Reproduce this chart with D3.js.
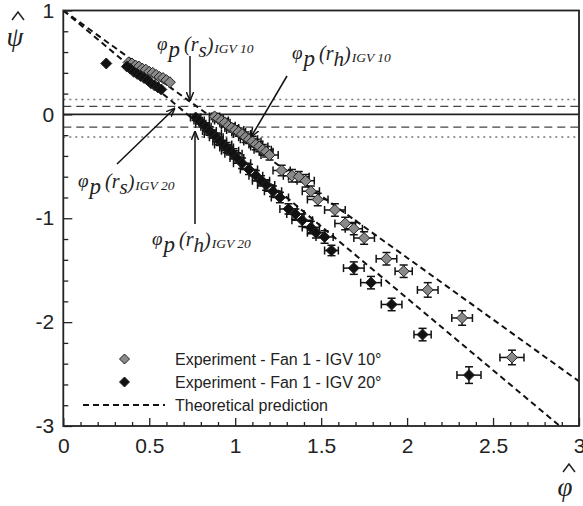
<!DOCTYPE html>
<html>
<head>
<meta charset="utf-8">
<script src="https://cdn.jsdelivr.net/npm/d3@7"></script>
<style>
  body { margin: 0; background: #fff; }
  svg { display: block; }
  .tickLabel { font-family: "Liberation Sans", Arial, sans-serif; font-size: 21px; fill: #222; }
  .legendText { font-family: "Liberation Sans", Arial, sans-serif; font-size: 16px; fill: #222; }
  .note { font-family: "Liberation Serif", "Times New Roman", serif; font-style: italic; fill: #222; }
</style>
</head>
<body>
<div id="chart"></div>
<script>
// data
var igv10Phi = [0.38, 0.40, 0.42, 0.44, 0.46, 0.48, 0.50, 0.52, 0.54, 0.56, 0.58, 0.60, 0.62,
  0.88, 0.90, 0.92, 0.94, 0.96, 0.98, 1.00, 1.02, 1.04, 1.06, 1.08, 1.10, 1.12, 1.14, 1.16, 1.18, 1.20,
  1.27, 1.33, 1.37, 1.41, 1.44, 1.48, 1.58, 1.64, 1.69, 1.75, 1.88, 1.98, 2.12, 2.32, 2.61];
var igv10Psi = [0.50, 0.49, 0.47, 0.46, 0.44, 0.43, 0.41, 0.40, 0.38, 0.36, 0.35, 0.33, 0.31,
  -0.02, -0.04, -0.06, -0.08, -0.11, -0.13, -0.15, -0.17, -0.19, -0.22, -0.24, -0.26, -0.29, -0.31, -0.34, -0.36, -0.39,
  -0.54, -0.59, -0.60, -0.64, -0.74, -0.82, -0.92, -1.05, -1.10, -1.19, -1.39, -1.51, -1.69, -1.96, -2.34];
var igv10ErrPhi = [0, 0, 0, 0, 0, 0, 0, 0, 0, 0, 0, 0, 0,
  0.03, 0.03, 0.04, 0.03, 0.04, 0.04, 0.05, 0.04, 0.05, 0.04, 0.05, 0.05, 0.04, 0.05, 0.05, 0.04, 0.05,
  0.05, 0.05, 0.06, 0.05, 0.05, 0.06, 0.06, 0.06, 0.05, 0.06, 0.06, 0.05, 0.06, 0.06, 0.07];
var igv10ErrPsi = [0, 0, 0, 0, 0, 0, 0, 0, 0, 0, 0, 0, 0,
  0.03, 0.03, 0.03, 0.04, 0.03, 0.04, 0.04, 0.04, 0.04, 0.05, 0.04, 0.05, 0.05, 0.05, 0.05, 0.05, 0.05,
  0.05, 0.06, 0.05, 0.06, 0.05, 0.06, 0.06, 0.06, 0.06, 0.06, 0.06, 0.06, 0.07, 0.07, 0.07];

var igv20Phi = [0.25, 0.37, 0.39, 0.41, 0.43, 0.45, 0.47, 0.49, 0.51, 0.53, 0.55, 0.57,
  0.77, 0.79, 0.81, 0.83, 0.85, 0.87, 0.89, 0.91, 0.93, 0.95, 0.97, 0.99, 1.01, 1.04, 1.08, 1.12, 1.15, 1.18, 1.22, 1.26,
  1.31, 1.35, 1.39, 1.44, 1.47, 1.52, 1.56, 1.69, 1.79, 1.91, 2.09, 2.36];
var igv20Psi = [0.49, 0.46, 0.44, 0.41, 0.39, 0.37, 0.35, 0.33, 0.30, 0.28, 0.26, 0.24,
  -0.03, -0.06, -0.09, -0.12, -0.16, -0.19, -0.22, -0.26, -0.29, -0.32, -0.35, -0.38, -0.42, -0.47, -0.53, -0.59, -0.64, -0.68, -0.74, -0.80,
  -0.91, -0.96, -1.02, -1.09, -1.14, -1.18, -1.31, -1.48, -1.62, -1.83, -2.12, -2.51];
var igv20ErrPhi = [0, 0, 0, 0, 0, 0, 0, 0, 0, 0, 0, 0,
  0.03, 0.03, 0.04, 0.03, 0.04, 0.05, 0.04, 0.04, 0.05, 0.04, 0.05, 0.05, 0.04, 0.05, 0.05, 0.04, 0.05, 0.05, 0.05, 0.05,
  0.05, 0.05, 0.06, 0.05, 0.05, 0.05, 0.04, 0.06, 0.06, 0.06, 0.05, 0.07];
var igv20ErrPsi = [0, 0, 0, 0, 0, 0, 0, 0, 0, 0, 0, 0,
  0.03, 0.03, 0.03, 0.04, 0.04, 0.04, 0.04, 0.04, 0.04, 0.05, 0.04, 0.05, 0.05, 0.05, 0.05, 0.05, 0.05, 0.05, 0.05, 0.05,
  0.05, 0.05, 0.06, 0.06, 0.05, 0.06, 0.05, 0.06, 0.06, 0.06, 0.06, 0.08];

// theoretical prediction lines: psi = 1 + slope * phi
var theoryIntercept = 1;
var theorySlopes = [-1.19, -1.385];

// horizontal reference levels
var dashedLevels = [0.077, -0.122];
var dottedLevels = [0.144, -0.218];

var xMajor = [0, 0.5, 1, 1.5, 2, 2.5, 3];
var yMajor = [1, 0, -1, -2, -3];

var legendLabels = ["Experiment - Fan 1 - IGV 10\u00b0", "Experiment - Fan 1 - IGV 20\u00b0", "Theoretical prediction"];

var width = 583;
var height = 506;
var plotLeft = 63.3;
var plotRight = 579;
var plotTop = 10.5;
var plotBottom = 426;

var svg = d3.select("#chart").append("svg")
  .attr("width", width)
  .attr("height", height);

var xScale = d3.scaleLinear().domain([0, 3]).range([plotLeft, plotRight]);
var yScale = d3.scaleLinear().domain([-3, 1]).range([plotBottom, plotTop]);

var defs = svg.append("defs");
defs.append("clipPath").attr("id", "plotClip")
  .append("rect")
  .attr("x", plotLeft).attr("y", plotTop)
  .attr("width", plotRight - plotLeft).attr("height", plotBottom - plotTop);

// arrow marker
defs.append("marker")
  .attr("id", "arrow")
  .attr("viewBox", "0 -5 10 10")
  .attr("refX", 10).attr("refY", 0)
  .attr("markerWidth", 9).attr("markerHeight", 9)
  .attr("markerUnits", "userSpaceOnUse")
  .attr("orient", "auto")
  .append("path")
  .attr("d", "M0,-4L10,0L0,4")
  .attr("fill", "none")
  .attr("stroke", "#111")
  .attr("stroke-width", 1.6);

// minor ticks
var xMinor = d3.range(0, 31).map(function(i) { return i / 10; })
  .filter(function(v) { return Math.round(v * 10) % 5 !== 0; });
var yMinor = d3.range(-15, 6).map(function(i) { return i / 5; })
  .filter(function(v) { return Math.round(v * 5) % 5 !== 0; });

var xAxis = d3.axisBottom(xScale).tickValues(xMajor).tickSize(-8).tickPadding(12)
  .tickFormat(function(d) { return String(d); });
var xAxisMinor = d3.axisBottom(xScale).tickValues(xMinor).tickSize(-4).tickFormat("");
var yAxis = d3.axisLeft(yScale).tickValues(yMajor).tickSize(-9).tickPadding(9)
  .tickFormat(function(d) { return String(d); });
var yAxisMinor = d3.axisLeft(yScale).tickValues(yMinor).tickSize(-5).tickFormat("");

function styleAxis(g) {
  g.select(".domain").remove();
  g.attr("font-size", null).attr("font-family", null);
  g.selectAll("line").attr("stroke", "#222").attr("stroke-width", 1.3);
  g.selectAll("text").attr("class", "tickLabel").attr("fill", "#222");
}

svg.append("g").attr("transform", "translate(0," + plotBottom + ")").call(xAxis).call(styleAxis);
svg.append("g").attr("transform", "translate(0," + plotBottom + ")").call(xAxisMinor).call(styleAxis);
svg.append("g").attr("transform", "translate(" + plotLeft + ",0)").call(yAxis).call(styleAxis);
svg.append("g").attr("transform", "translate(" + plotLeft + ",0)").call(yAxisMinor).call(styleAxis);

// reference lines
var plot = svg.append("g").attr("clip-path", "url(#plotClip)");

plot.selectAll(".dotLevel").data(dottedLevels).enter().append("line")
  .attr("x1", plotLeft).attr("x2", plotRight)
  .attr("y1", function(d) { return yScale(d); })
  .attr("y2", function(d) { return yScale(d); })
  .attr("stroke", "#777").attr("stroke-width", 1.5)
  .attr("stroke-dasharray", "2,4");

plot.selectAll(".dashLevel").data(dashedLevels).enter().append("line")
  .attr("x1", plotLeft).attr("x2", plotRight)
  .attr("y1", function(d) { return yScale(d); })
  .attr("y2", function(d) { return yScale(d); })
  .attr("stroke", "#444").attr("stroke-width", 1.3)
  .attr("stroke-dasharray", "8,5");

plot.append("line")
  .attr("x1", plotLeft).attr("x2", plotRight)
  .attr("y1", yScale(0)).attr("y2", yScale(0))
  .attr("stroke", "#222").attr("stroke-width", 1.6);

// theoretical lines
var line = d3.line()
  .x(function(d) { return xScale(d[0]); })
  .y(function(d) { return yScale(d[1]); });

theorySlopes.forEach(function(s) {
  plot.append("path")
    .attr("d", line([[0, theoryIntercept], [3.2, theoryIntercept + s * 3.2]]))
    .attr("fill", "none")
    .attr("stroke", "#111")
    .attr("stroke-width", 2)
    .attr("stroke-dasharray", "6,4");
});

// build point tables
function buildPoints(phi, psi, ePhi, ePsi) {
  return phi.map(function(p, i) {
    return { phi: p, psi: psi[i], ex: ePhi[i], ey: ePsi[i] };
  });
}
var igv10 = buildPoints(igv10Phi, igv10Psi, igv10ErrPhi, igv10ErrPsi);
var igv20 = buildPoints(igv20Phi, igv20Psi, igv20ErrPhi, igv20ErrPsi);

var diamond = function(r) {
  return "M0," + (-r) + "L" + r + ",0L0," + r + "L" + (-r) + ",0Z";
};

function drawSeries(points, fill) {
  var g = plot.append("g");
  var withErr = points.filter(function(d) { return d.ex > 0; });
  var cap = 4;
  var eb = g.selectAll("g.err").data(withErr).enter().append("g")
    .attr("stroke", "#111").attr("stroke-width", 1.5);
  eb.append("line")
    .attr("x1", function(d) { return xScale(d.phi - d.ex); })
    .attr("x2", function(d) { return xScale(d.phi + d.ex); })
    .attr("y1", function(d) { return yScale(d.psi); })
    .attr("y2", function(d) { return yScale(d.psi); });
  eb.append("line")
    .attr("x1", function(d) { return xScale(d.phi - d.ex); })
    .attr("x2", function(d) { return xScale(d.phi - d.ex); })
    .attr("y1", function(d) { return yScale(d.psi) - cap; })
    .attr("y2", function(d) { return yScale(d.psi) + cap; });
  eb.append("line")
    .attr("x1", function(d) { return xScale(d.phi + d.ex); })
    .attr("x2", function(d) { return xScale(d.phi + d.ex); })
    .attr("y1", function(d) { return yScale(d.psi) - cap; })
    .attr("y2", function(d) { return yScale(d.psi) + cap; });
  eb.append("line")
    .attr("x1", function(d) { return xScale(d.phi); })
    .attr("x2", function(d) { return xScale(d.phi); })
    .attr("y1", function(d) { return yScale(d.psi + d.ey); })
    .attr("y2", function(d) { return yScale(d.psi - d.ey); });
  eb.append("line")
    .attr("x1", function(d) { return xScale(d.phi) - cap; })
    .attr("x2", function(d) { return xScale(d.phi) + cap; })
    .attr("y1", function(d) { return yScale(d.psi + d.ey); })
    .attr("y2", function(d) { return yScale(d.psi + d.ey); });
  eb.append("line")
    .attr("x1", function(d) { return xScale(d.phi) - cap; })
    .attr("x2", function(d) { return xScale(d.phi) + cap; })
    .attr("y1", function(d) { return yScale(d.psi - d.ey); })
    .attr("y2", function(d) { return yScale(d.psi - d.ey); });

  g.selectAll("path.pt").data(points).enter().append("path")
    .attr("class", "pt")
    .attr("d", diamond(5.5))
    .attr("transform", function(d) {
      return "translate(" + xScale(d.phi) + "," + yScale(d.psi) + ")";
    })
    .attr("fill", fill)
    .attr("stroke", "#222")
    .attr("stroke-width", 1);
}

drawSeries(igv10, "#8a8a8a");
drawSeries(igv20, "#111");

// frame
svg.append("rect")
  .attr("x", plotLeft).attr("y", plotTop)
  .attr("width", plotRight - plotLeft).attr("height", plotBottom - plotTop)
  .attr("fill", "none").attr("stroke", "#222").attr("stroke-width", 1.8);

// annotations
function note(x, y, sub, tag) {
  var t = svg.append("text").attr("class", "note").attr("x", x).attr("y", y);
  t.append("tspan").attr("font-size", 19).text("\u03c6");
  t.append("tspan").attr("font-size", 23).attr("dy", 7).attr("dx", 1).text("p");
  t.append("tspan").attr("font-size", 20).attr("dy", -6).attr("dx", 4).text("(r");
  t.append("tspan").attr("font-size", 21).attr("dy", 6).text(sub);
  t.append("tspan").attr("font-size", 20).attr("dy", -5).text(")");
  t.append("tspan").attr("font-size", 13.5).attr("dy", 1).attr("dx", 1).text(tag);
}
function arrow(x1, y1, x2, y2) {
  svg.append("line")
    .attr("x1", x1).attr("y1", y1).attr("x2", x2).attr("y2", y2)
    .attr("stroke", "#111").attr("stroke-width", 1.5)
    .attr("marker-end", "url(#arrow)");
}

note(157, 50, "s", "IGV 10");
arrow(190, 56, 190, 101);
note(292, 59, "h", "IGV 10");
arrow(287, 76, 251, 137);
note(78, 187, "s", "IGV 20");
arrow(117, 164, 175, 108);
note(152, 245, "h", "IGV 20");
arrow(195, 224, 195, 131);

// axis titles (caret drawn as a small path so it sits just above the symbol)
svg.append("path").attr("d", "M12,20L18,12L24,20")
  .attr("fill", "none").attr("stroke", "#222").attr("stroke-width", 1.5);
svg.append("text").attr("class", "note").attr("x", 15).attr("y", 46)
  .attr("text-anchor", "middle").attr("font-size", 27).text("\u03c8");
svg.append("path").attr("d", "M563,472L569,464L575,472")
  .attr("fill", "none").attr("stroke", "#222").attr("stroke-width", 1.5);
svg.append("text").attr("class", "note").attr("x", 565).attr("y", 496)
  .attr("text-anchor", "middle").attr("font-size", 27).text("\u03c6");

// legend
var legend = svg.append("g");
var legendY = [359, 382, 405];
legend.append("path").attr("d", diamond(5))
  .attr("transform", "translate(124.5," + legendY[0] + ")")
  .attr("fill", "#8a8a8a").attr("stroke", "#222");
legend.append("path").attr("d", diamond(5))
  .attr("transform", "translate(124.5," + legendY[1] + ")")
  .attr("fill", "#111").attr("stroke", "#222");
legend.append("line")
  .attr("x1", 83).attr("x2", 165)
  .attr("y1", legendY[2]).attr("y2", legendY[2])
  .attr("stroke", "#111").attr("stroke-width", 2).attr("stroke-dasharray", "6,4");
legend.selectAll("text.legendText").data(legendLabels).enter().append("text")
  .attr("class", "legendText")
  .attr("x", 175)
  .attr("y", function(d, i) { return legendY[i] + 6; })
  .text(function(d) { return d; });
</script>
</body>
</html>
